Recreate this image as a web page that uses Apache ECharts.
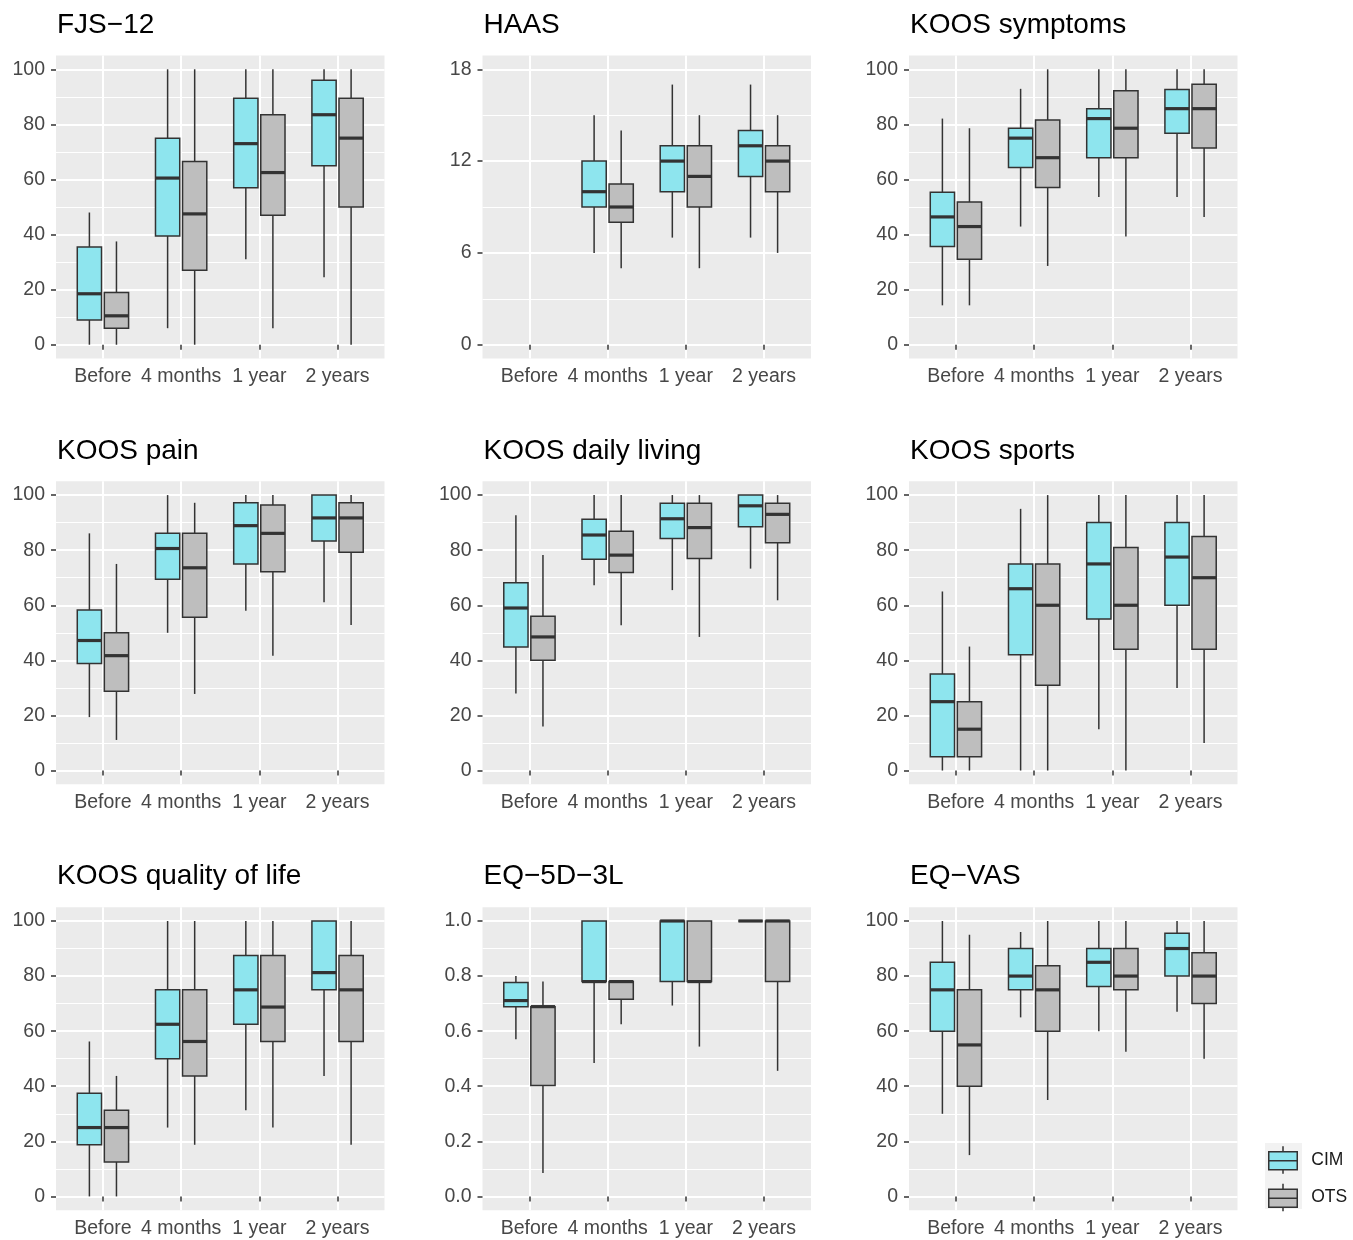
<!DOCTYPE html>
<html>
<head>
<meta charset="utf-8">
<title>CIM vs OTS scores over time</title>
<script src="https://cdn.jsdelivr.net/npm/echarts@6/dist/echarts.min.js"></script>
<style>
  html, body { margin: 0; background: #fff; }
  #chart { width: 1353px; height: 1240px; }
</style>
</head>
<body>
<div id="chart"></div>
<script>
// categories / groups / titles
const TIMES = ['Before', '4 months', '1 year', '2 years'];
const GROUPS = ['CIM', 'OTS'];
const TITLES = ['FJS−12', 'HAAS', 'KOOS symptoms', 'KOOS pain', 'KOOS daily living',
  'KOOS sports', 'KOOS quality of life', 'EQ−5D−3L', 'EQ−VAS'];

// y tick labels
const TICKS_100 = [0, 20, 40, 60, 80, 100];
const TICKS_HAAS = [0, 6, 12, 18];
const TICKS_EQ5D = [0, 0.2, 0.4, 0.6, 0.8, 1.0];

// boxes per time point: [lower whisker, Q1, median, Q3, upper whisker]
const FJS_CIM = [[0, 9, 18.5, 35.5, 48], [6, 39.5, 60.5, 75, 100], [31, 57, 73, 89.5, 100], [24.5, 65, 83.5, 96, 100]];
const FJS_OTS = [[0, 6, 10.5, 19, 37.5], [0, 27, 47.5, 66.5, 100], [6, 47, 62.5, 83.5, 100], [0, 50, 75, 89.5, 100]];
const HAAS_CIM = [null, [6, 9, 10, 12, 15], [7, 10, 12, 13, 17], [7, 11, 13, 14, 17]];
const HAAS_OTS = [null, [5, 8, 9, 10.5, 14], [5, 9, 11, 13, 15], [6, 10, 12, 13, 15]];
const SYMP_CIM = [[14.3, 35.7, 46.4, 55.4, 82.1], [42.9, 64.3, 75, 78.6, 92.9], [53.6, 67.9, 82.1, 85.7, 100], [53.6, 76.8, 85.7, 92.7, 100]];
const SYMP_OTS = [[14.3, 31, 42.9, 51.8, 78.6], [28.6, 57.1, 67.9, 81.6, 100], [39.3, 67.9, 78.6, 92.2, 100], [46.4, 71.4, 85.7, 94.6, 100]];
const PAIN_CIM = [[19.4, 38.9, 47.2, 58.3, 86.1], [50, 69.4, 80.6, 86.1, 100], [58, 75, 88.9, 97.2, 100], [61.1, 83.3, 91.7, 100, 100]];
const PAIN_OTS = [[11.1, 28.8, 41.7, 50, 75], [27.8, 55.6, 73.6, 86.1, 97.2], [41.7, 72.2, 86.1, 96.4, 100], [52.8, 79.2, 91.7, 97.2, 100]];
const ADL_CIM = [[28, 44.8, 59, 68.2, 92.7], [67.3, 76.7, 85.5, 91.2, 100], [65.5, 84.2, 91.4, 97, 100], [73.3, 88.5, 96.1, 100, 100]];
const ADL_OTS = [[16, 40, 48.5, 56, 78.2], [52.7, 71.9, 78.2, 86.9, 100], [48.5, 77, 88.2, 97, 100], [61.8, 82.7, 93, 97, 100]];
const SPORT_CIM = [[0, 5, 25, 35, 65], [0, 42, 66, 75, 95], [15, 55, 75, 90, 100], [30, 60, 77.5, 90, 100]];
const SPORT_OTS = [[0, 5, 15, 25, 45], [0, 31, 60, 75, 100], [0, 44, 60, 81, 100], [10, 44, 70, 85, 100]];
const QOL_CIM = [[0, 18.75, 25, 37.5, 56.25], [25, 50, 62.5, 75, 100], [31.25, 62.5, 75, 87.5, 100], [43.75, 75, 81.25, 100, 100]];
const QOL_OTS = [[0, 12.5, 25, 31.25, 43.75], [18.75, 43.75, 56.25, 75, 100], [25, 56.25, 68.75, 87.5, 100], [18.75, 56.25, 75, 87.5, 100]];
const EQ5D_CIM = [[0.571, 0.689, 0.711, 0.777, 0.8], [0.484, 0.78, 0.78, 1, 1], [0.693, 0.78, 1, 1, 1], [1, 1, 1, 1, 1]];
const EQ5D_OTS = [[0.085, 0.403, 0.689, 0.689, 0.78], [0.625, 0.716, 0.78, 0.78, 0.78], [0.544, 0.78, 0.78, 1, 1], [0.456, 0.78, 1, 1, 1]];
const VAS_CIM = [[30, 60, 75, 85, 100], [65, 75, 80, 90, 96], [60, 76.25, 85, 90, 100], [67, 80, 90, 95.5, 100]];
const VAS_OTS = [[15, 40, 55, 75, 95], [35, 60, 75, 83.75, 100], [52.5, 75, 80, 90, 100], [50, 70, 80, 88.5, 100]];

const COLORS = { CIM: '#8EE5EE', OTS: '#BEBEBE' };
const INK = '#333333';
const FONT = "'Liberation Sans', Arial, sans-serif";

const panels = [
  { ticks: TICKS_100, cim: FJS_CIM, ots: FJS_OTS },
  { ticks: TICKS_HAAS, cim: HAAS_CIM, ots: HAAS_OTS },
  { ticks: TICKS_100, cim: SYMP_CIM, ots: SYMP_OTS },
  { ticks: TICKS_100, cim: PAIN_CIM, ots: PAIN_OTS },
  { ticks: TICKS_100, cim: ADL_CIM, ots: ADL_OTS },
  { ticks: TICKS_100, cim: SPORT_CIM, ots: SPORT_OTS },
  { ticks: TICKS_100, cim: QOL_CIM, ots: QOL_OTS },
  { ticks: TICKS_EQ5D, cim: EQ5D_CIM, ots: EQ5D_OTS, decimals: 1 },
  { ticks: TICKS_100, cim: VAS_CIM, ots: VAS_OTS }
];

// layout
const COL_LEFT = [56, 482.5, 909];
const ROW_TOP = [55.5, 481.3, 907.2];
const PANEL_W = 328.5;
const PANEL_H = 303;
const BOX_W = 0.31;   // box width in x units
const DODGE = 0.173;  // offset of each group from the time point
const LINE_W = 1.5;

const KEY_ICON = 'path://M14.25,0V5.5M14.25,23.5V27.5M0,5.5H28.5V23.5H0ZM0,14.5H28.5';

function renderBox(params, api) {
  const x = api.value(0);
  const p = [1, 2, 3, 4, 5].map(d => api.coord([x, api.value(d)]));
  const w = api.size([BOX_W, 0])[0];
  const cx = p[0][0];
  return {
    type: 'group',
    children: [
      { type: 'line', shape: { x1: cx, y1: p[0][1], x2: cx, y2: p[1][1] }, style: { stroke: INK, lineWidth: LINE_W } },
      { type: 'line', shape: { x1: cx, y1: p[3][1], x2: cx, y2: p[4][1] }, style: { stroke: INK, lineWidth: LINE_W } },
      { type: 'rect', shape: { x: cx - w / 2, y: p[3][1], width: w, height: p[1][1] - p[3][1] },
        style: { fill: api.visual('color'), stroke: INK, lineWidth: LINE_W } },
      { type: 'line', shape: { x1: cx - w / 2, y1: p[2][1], x2: cx + w / 2, y2: p[2][1] }, style: { stroke: INK, lineWidth: 3.2 } }
    ]
  };
}

const grid = [], xAxis = [], yAxis = [], series = [], title = [];

panels.forEach((p, i) => {
  const left = COL_LEFT[i % 3];
  const top = ROW_TOP[Math.floor(i / 3)];
  const ticks = p.ticks;
  const span = ticks[ticks.length - 1] - ticks[0];
  const step = ticks[1] - ticks[0];

  title.push({
    text: TITLES[i], left: left + 1, top: top - 44.5, padding: 0,
    textStyle: { fontSize: 28, fontWeight: 'normal', color: '#000', fontFamily: FONT }
  });

  grid.push({
    left: left, top: top, width: PANEL_W, height: PANEL_H,
    show: true, backgroundColor: '#EBEBEB', borderWidth: 0,
    containLabel: false, outerBoundsMode: 'none'
  });

  xAxis.push({
    gridIndex: i, type: 'value', min: 0.4, max: 4.6, minInterval: 1, maxInterval: 1,
    axisLine: { show: false },
    axisTick: { show: true, length: 5, lineStyle: { color: INK, width: LINE_W }, customValues: [1, 2, 3, 4] },
    axisLabel: {
      customValues: [1, 2, 3, 4], margin: 8, color: '#474747', fontSize: 19.5, fontFamily: FONT,
      formatter: v => (Number.isInteger(v) && TIMES[v - 1]) || ''
    },
    splitLine: { show: true, lineStyle: { color: '#FFFFFF', width: 2 } },
    minorSplitLine: { show: false }
  });

  yAxis.push({
    gridIndex: i, type: 'value',
    min: ticks[0] - 0.05 * span, max: ticks[ticks.length - 1] + 0.05 * span,
    minInterval: step, maxInterval: step,
    axisLine: { show: false },
    axisTick: { show: true, length: 5, lineStyle: { color: INK, width: LINE_W }, customValues: ticks },
    axisLabel: {
      customValues: ticks, margin: 11, color: '#474747', fontSize: 19.5, fontFamily: FONT,
      formatter: v => {
        const t = ticks.find(t => Math.abs(t - v) < 1e-9);
        if (t === undefined) return '';
        return p.decimals ? t.toFixed(p.decimals) : String(t);
      }
    },
    splitLine: { show: true, lineStyle: { color: '#FFFFFF', width: 2 } },
    minorTick: { show: false, splitNumber: 2 },
    minorSplitLine: { show: true, lineStyle: { color: '#FFFFFF', width: 1 } }
  });

  GROUPS.forEach((g, k) => {
    const vals = k === 0 ? p.cim : p.ots;
    const shift = k === 0 ? -DODGE : DODGE;
    series.push({
      type: 'custom', name: g, xAxisIndex: i, yAxisIndex: i,
      itemStyle: { color: COLORS[g] },
      encode: { x: 0, y: [1, 2, 3, 4, 5] },
      data: vals.map((v, j) => (v ? [j + 1 + shift].concat(v) : null)).filter(Boolean),
      renderItem: renderBox,
      silent: true
    });
  });
});

const chart = echarts.init(document.getElementById('chart'), null, { renderer: 'canvas' });
chart.setOption({
  animation: false,
  backgroundColor: '#FFFFFF',
  textStyle: { fontFamily: FONT },
  title: title,
  grid: grid,
  xAxis: xAxis,
  yAxis: yAxis,
  series: series,
  legend: {
    orient: 'vertical', left: 1268, top: 1145.5, padding: 0,
    itemWidth: 28.5, itemHeight: 27.5, itemGap: 8.5, selectedMode: false,
    data: GROUPS.map(g => ({
      name: g, icon: KEY_ICON,
      itemStyle: { color: COLORS[g], borderColor: INK, borderWidth: LINE_W }
    })),
    textStyle: { fontSize: 17.5, color: '#1A1A1A', fontFamily: FONT, padding: [0, 0, 0, 9] }
  },
  graphic: [{
    type: 'rect', left: 1265, top: 1143, z: -1, silent: true,
    shape: { width: 37, height: 66 }, style: { fill: '#F2F2F2' }
  }]
});
</script>
</body>
</html>
